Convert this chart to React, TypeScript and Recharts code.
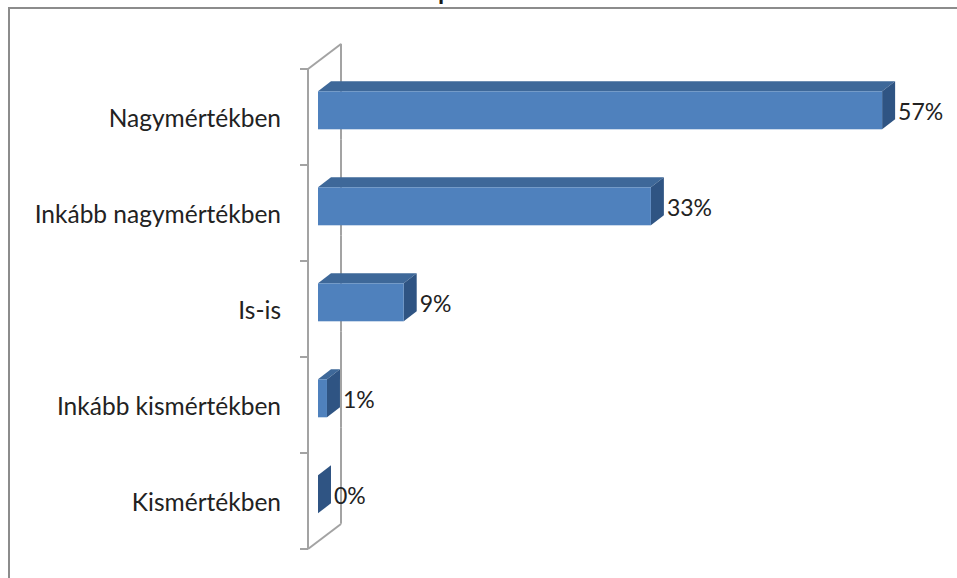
import { Bar, BarChart, LabelList, XAxis, YAxis } from "recharts";

// answer shares (labels are rounded)
const categories = [
  "Nagymértékben",
  "Inkább nagymértékben",
  "Is-is",
  "Inkább kismértékben",
  "Kismértékben",
];
const shares = [56.6, 33.4, 8.6, 0.9, 0];
const titleText = "p";

const data = categories.map((name, i) => ({ name, value: shares[i] }));

const W = 957;
const H = 578;
const MARGIN = { top: 69, right: 51, bottom: 29, left: 8 };
const Y_WIDTH = 300;
const TICK_SIZE = 8;
const TICK_MARGIN = 19;
const BAND = (H - MARGIN.top - MARGIN.bottom) / categories.length;

// fake 3d: wall depth and where the bars sit inside it
const WALL_DX = 33;
const WALL_DY = 25;
const OFF_X = 10;
const OFF_Y = 6.5;
const DEPTH_X = 13;
const DEPTH_Y = 10;

const WALL = "#a3a3a3";
const FONT = "Lato, 'Open Sans', sans-serif";
const INK = "#222";

function WallTick(props: any) {
  const { x, y, payload, index } = props;
  const ax = x + TICK_SIZE + TICK_MARGIN;
  const top = y - BAND / 2;
  const bottom = y + BAND / 2;
  const last = index === categories.length - 1;
  return (
    <g>
      <line x1={ax - TICK_SIZE} x2={ax} y1={top} y2={top} stroke={WALL} strokeWidth={2} />
      {last && <line x1={ax - TICK_SIZE} x2={ax} y1={bottom} y2={bottom} stroke={WALL} strokeWidth={2} />}
      {index === 0 && <line x1={ax} y1={top} x2={ax + WALL_DX} y2={top - WALL_DY} stroke={WALL} strokeWidth={2} />}
      {last && <line x1={ax} y1={bottom} x2={ax + WALL_DX} y2={bottom - WALL_DY} stroke={WALL} strokeWidth={2} />}
      <text
        x={x}
        y={y}
        textAnchor="end"
        dominantBaseline="central"
        fill={INK}
        fontSize={24.5}
        fontFamily={FONT}
      >
        {payload.value}
      </text>
    </g>
  );
}

// back edge of the wall, drawn as bar background so the bars cover it
function BackWall(props: any) {
  const { x, y, height } = props;
  const mid = y + height / 2;
  const bx = x + WALL_DX;
  return (
    <line
      x1={bx}
      x2={bx}
      y1={mid - BAND / 2 - WALL_DY}
      y2={mid + BAND / 2 - WALL_DY}
      stroke={WALL}
      strokeWidth={2}
    />
  );
}

function Bar3D(props: any) {
  const { x, y, width, height } = props;
  const fx = x + OFF_X;
  const fy = y - OFF_Y;
  const w = Math.max(width, 0);
  return (
    <g>
      <polygon
        points={`${fx},${fy} ${fx + DEPTH_X},${fy - DEPTH_Y} ${fx + w + DEPTH_X},${fy - DEPTH_Y} ${fx + w},${fy}`}
        fill="#3e6899"
      />
      <polygon
        points={`${fx + w},${fy} ${fx + w + DEPTH_X},${fy - DEPTH_Y} ${fx + w + DEPTH_X},${fy + height - DEPTH_Y} ${fx + w},${fy + height}`}
        fill="#2f5483"
      />
      {w > 0 && <rect x={fx} y={fy} width={w} height={height} fill="#4f81bd" />}
    </g>
  );
}

function ShareLabel(props: any) {
  const { x, y, width, height, value } = props;
  return (
    <text
      x={x + width + OFF_X + DEPTH_X + 3}
      y={y + height / 2 - OFF_Y + 1}
      dominantBaseline="central"
      fill={INK}
      fontSize={23}
      fontFamily={FONT}
    >
      {`${Math.round(value)}%`}
    </text>
  );
}

export default function App() {
  return (
    <div style={{ position: "fixed", left: 0, top: 0, width: W, height: H, overflow: "hidden", background: "#fff" }}>
      <div
        style={{
          position: "absolute",
          left: 8,
          top: 7,
          width: 2000,
          height: 2000,
          borderTop: "2px solid #8c8c8c",
          borderLeft: "2px solid #8c8c8c",
        }}
      />
      <div
        style={{
          position: "absolute",
          left: 438,
          top: -20,
          fontFamily: FONT,
          fontWeight: 700,
          fontSize: 25,
          lineHeight: "20px",
          color: "#1a1a1a",
        }}
      >
        {titleText}
      </div>
      <div style={{ position: "absolute", left: 0, top: 0 }}>
        <BarChart width={W} height={H} data={data} layout="vertical" margin={MARGIN} barCategoryGap="30%">
          <XAxis type="number" domain={[0, 60]} hide />
          <YAxis
            type="category"
            dataKey="name"
            width={Y_WIDTH}
            tickSize={TICK_SIZE}
            tickMargin={TICK_MARGIN}
            tickLine={false}
            axisLine={{ stroke: WALL, strokeWidth: 2 }}
            tick={<WallTick />}
            interval={0}
          />
          <Bar dataKey="value" shape={<Bar3D />} background={<BackWall />} isAnimationActive={false}>
            <LabelList dataKey="value" content={<ShareLabel />} />
          </Bar>
        </BarChart>
      </div>
    </div>
  );
}
